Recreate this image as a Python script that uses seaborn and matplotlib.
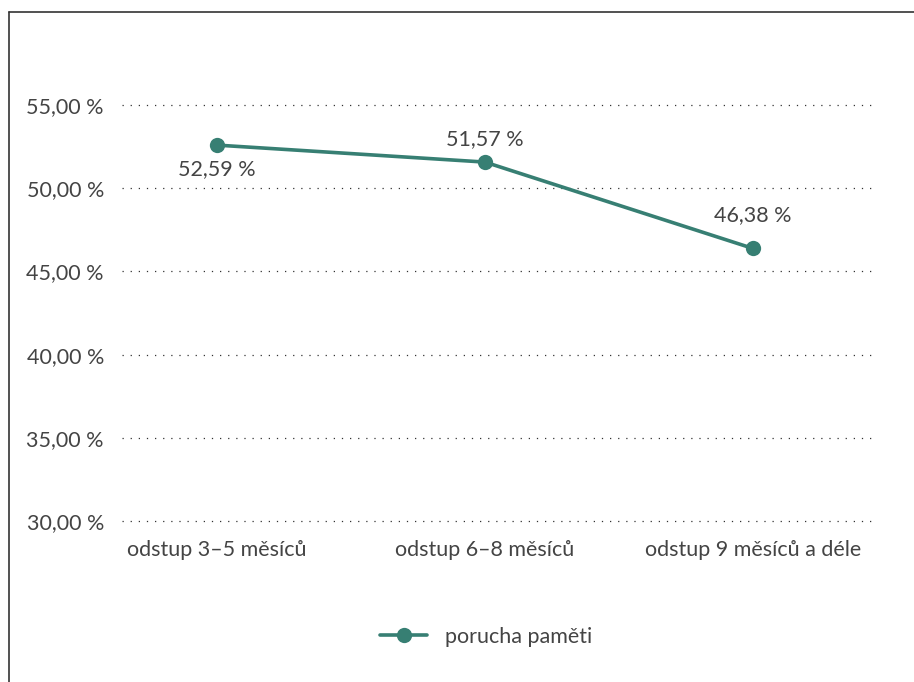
import matplotlib
matplotlib.use("Agg")
import matplotlib.pyplot as plt
import seaborn as sns
import pandas as pd
from matplotlib.lines import Line2D

# --- data ---
categories = ["odstup 3–5 měsíců", "odstup 6–8 měsíců", "odstup 9 měsíců a déle"]
values = [52.59, 51.57, 46.38]
series_name = "porucha paměti"
y_ticks = [30, 35, 40, 45, 50, 55]

TEAL = "#377f73"
TEXT = "#444444"
FS = 15.5

sns.set_theme(style="white")
plt.rcParams["font.family"] = ["Lato", "DejaVu Sans"]

df = pd.DataFrame({"kat": categories, "hodnota": values, "serie": series_name})

fig = plt.figure(figsize=(9.14, 6.82), dpi=100)
ax = fig.add_axes([122 / 914, 1 - 521 / 682, (873 - 122) / 914, (521 - 105) / 682])

sns.lineplot(data=df, x="kat", y="hodnota", sort=False, color=TEAL, lw=2.6,
             marker="o", markersize=11, markeredgewidth=0, label=series_name,
             ax=ax, clip_on=False)

ax.set_ylim(30, 55)
ax.set_xlim(-0.354, 2.448)
ax.set_yticks(y_ticks)
ax.set_yticklabels([f"{t:.2f}".replace(".", ",") + " %" for t in y_ticks])
for t in y_ticks:
    ax.axhline(t, color="#333333", lw=0.9, ls=(0, (1, 5.5)), zorder=0, clip_on=False)

ax.set_xlabel("")
ax.set_ylabel("")
ax.tick_params(axis="y", length=0, pad=13, labelsize=FS, labelcolor=TEXT)
ax.tick_params(axis="x", length=0, pad=14, labelsize=FS, labelcolor=TEXT)
for s in ax.spines.values():
    s.set_visible(False)

# popisky hodnot
offsets = [(0, -24), (0, 23), (0, 33)]
for i, (v, off) in enumerate(zip(values, offsets)):
    ax.annotate(f"{v:.2f}".replace(".", ",") + " %", (i, v), xytext=(off[0], off[1] * 0.72),
                textcoords="offset points", ha="center", va="center",
                fontsize=FS, color=TEXT)

leg = ax.legend(loc="center", bbox_to_anchor=(486 / 914, 1 - 637 / 682),
                bbox_transform=fig.transFigure, frameon=False, fontsize=FS,
                handlelength=2.2, labelcolor=TEXT)

# rámeček
fig.add_artist(Line2D([9 / 914, 9 / 914], [0, 1 - 12 / 682], color="#333333", lw=1.2,
                      transform=fig.transFigure))
fig.add_artist(Line2D([9 / 914, 1], [1 - 12 / 682, 1 - 12 / 682], color="#333333", lw=1.2,
                      transform=fig.transFigure))

fig.savefig("out.png", dpi=100)
